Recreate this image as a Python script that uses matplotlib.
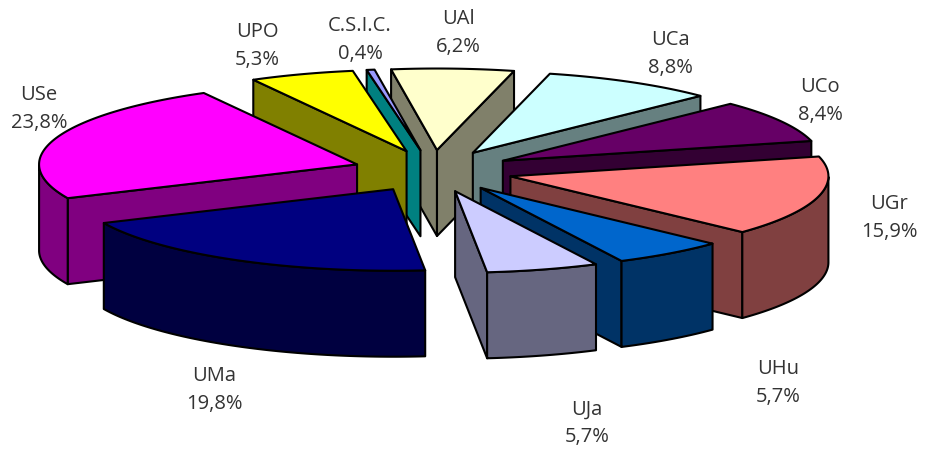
import numpy as np
import matplotlib
matplotlib.use("Agg")
import matplotlib.pyplot as plt
from matplotlib.patches import Polygon

plt.rcParams['font.family'] = ['Open Sans', 'DejaVu Sans']

categories = ["UAl", "UCa", "UCo", "UGr", "UHu", "UJa", "UMa", "USe", "UPO", "C.S.I.C."]
shares = [6.2, 8.8, 8.4, 15.9, 5.7, 5.7, 19.8, 23.8, 5.3, 0.4]
share_labels = ["6,2%", "8,8%", "8,4%", "15,9%", "5,7%", "5,7%", "19,8%", "23,8%", "5,3%", "0,4%"]
top_colors = ["#FFFFCC", "#CCFFFF", "#660066", "#FF8080", "#0066CC", "#CCCCFF", "#000080", "#FF00FF", "#FFFF00", "#9999FF"]
wall_colors = ["#80806A", "#668080", "#330033", "#804040", "#003366", "#666680", "#000040", "#800080", "#808000", "#008080"]
label_xy = [(458, 33), (670, 54), (820, 101), (889, 218), (778, 383), (587, 423), (214, 390), (39, 109), (257, 46), (360, 40)]

W, H = 925, 454
CX, CY = 433, 171
RX, RY = 318, 81.5
EX, EY = 80, 21
DEPTH = 86
START = -8.3

fig = plt.figure(figsize=(W / 100, H / 100), dpi=100)
ax = fig.add_axes([0, 0, 1, 1])
ax.set_xlim(0, W)
ax.set_ylim(H, 0)
ax.axis('off')

edges = START + np.concatenate([[0], np.cumsum(shares)]) * 3.6 / (sum(shares) / 100)
mids = (edges[:-1] + edges[1:]) / 2
order = np.argsort(-np.cos(np.radians(mids)))
kw = dict(edgecolor='black', linewidth=1.5, joinstyle='round')

for i in order:
    a0, a1 = edges[i], edges[i + 1]
    m = np.radians(mids[i])
    ax0 = CX + EX * np.sin(m)
    ay0 = CY - EY * np.cos(m)
    th = np.radians(np.linspace(a0, a1, 80))
    px = ax0 + RX * np.sin(th)
    py = ay0 - RY * np.cos(th)
    z = 10 + 3 * list(order).index(i)
    # radial walls: facing the viewer when the outward normal points down
    for k, sign in ((0, -1), (-1, 1)):
        dx, dy = px[k] - ax0, py[k] - ay0
        nx, ny = (-dy, dx) if sign > 0 else (dy, -dx)
        if ny > 0:
            ax.add_patch(Polygon([(ax0, ay0), (px[k], py[k]), (px[k], py[k] + DEPTH), (ax0, ay0 + DEPTH)],
                                 closed=True, facecolor=wall_colors[i], zorder=z, **kw))
    # outer wall: front half of the rim only
    vis = np.cos(th) <= 0
    if vis.any():
        vx, vy = px[vis], py[vis]
        ax.add_patch(Polygon(np.r_[np.c_[vx, vy], np.c_[vx, vy + DEPTH][::-1]],
                             closed=True, facecolor=wall_colors[i], zorder=z + 1, **kw))
    ax.add_patch(Polygon(np.r_[[(ax0, ay0)], np.c_[px, py]], closed=True,
                         facecolor=top_colors[i], zorder=z + 2, **kw))

for c, s, (x, y) in zip(categories, share_labels, label_xy):
    ax.text(x, y, f"{c}\n{s}", ha='center', va='center', fontsize=14.5, color='#333333',
            linespacing=1.5, zorder=100)

fig.savefig("out.png", dpi=100, facecolor='white')
